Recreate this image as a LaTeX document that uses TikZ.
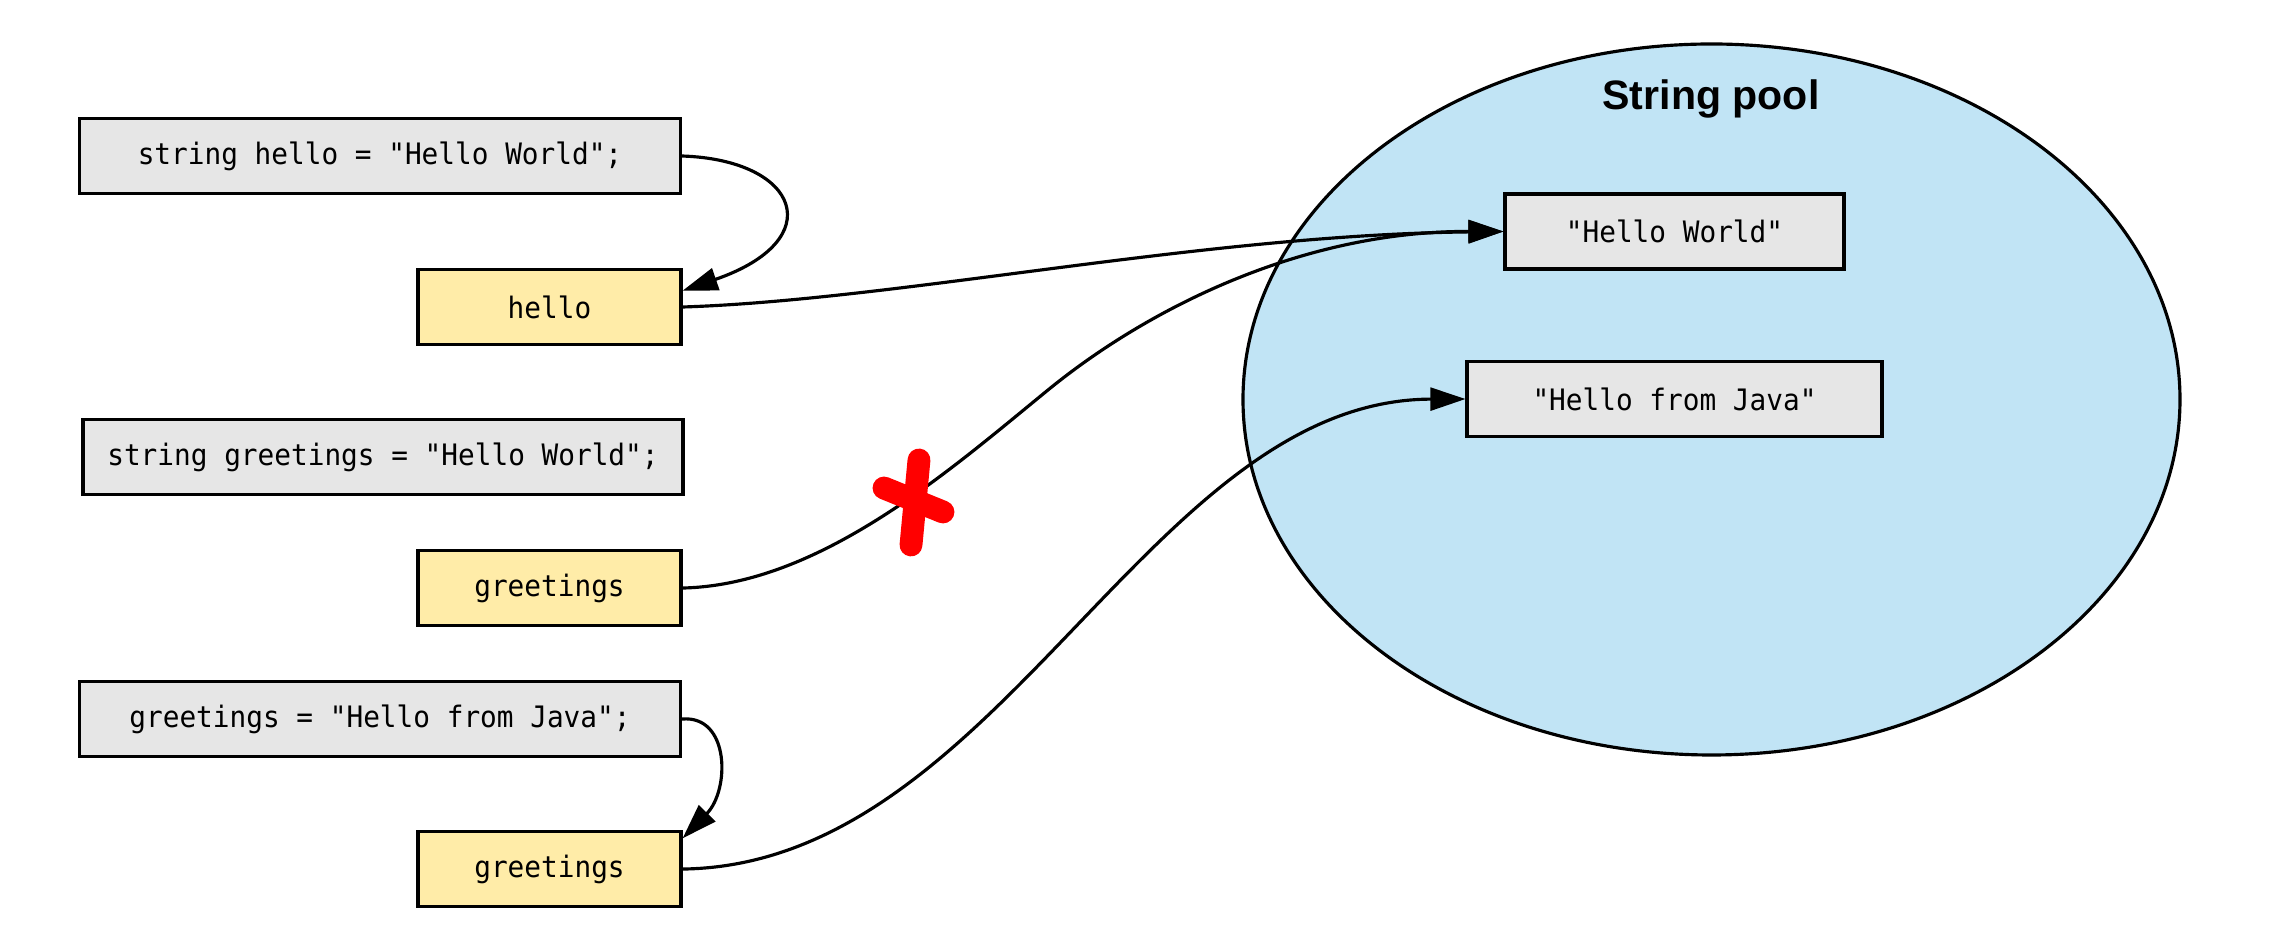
\documentclass[tikz,border=0pt]{standalone}
\usepackage{fontspec}
\usepackage{tikz}
\usetikzlibrary{arrows.meta}
\newfontfamily\codefont[FakeStretch=0.94]{DejaVu Sans Mono}
\newfontfamily\titlefont{Liberation Sans}
\definecolor{codegray}{HTML}{E6E6E6}
\definecolor{refyellow}{HTML}{FFECA8}
\definecolor{poolblue}{HTML}{C1E4F5}
\tikzset{
  font={\codefont\fontsize{8.4pt}{10}\selectfont},
  codebox/.style={draw=black, line width=0.9pt, fill=codegray,
    minimum height=0.75cm, inner sep=0pt},
  refbox/.style={codebox, fill=refyellow, minimum width=2.63cm},
  link/.style={black, line width=0.9pt, -{Triangle[length=10pt,width=6.5pt]}}}

\begin{document}
\begin{tikzpicture}[scale=0.1]
\useasboundingbox (0,0) rectangle (228.2,-92.6);
% string pool
\draw [black, line width=0.9pt, fill=poolblue] (171.15,-39.95) ellipse (46.85 and 35.55);
\node (title) at (171.1,-9.9) {\titlefont\bfseries\fontsize{11.7pt}{14}\selectfont String pool};
\node [codebox, minimum width=3.39cm] (hw) at (167.45,-23.15) {"Hello World"};
\node [codebox, minimum width=4.15cm] (hj) at (167.45,-39.9) {"Hello from Java"};
% statements and references
\node [codebox, minimum width=6.01cm] (stmt1) at (38,-15.6) {string hello = "Hello World";};
\node [refbox] (hello) at (54.95,-30.7) {hello};
\node [codebox, minimum width=6.0cm] (stmt2) at (38.3,-45.7) {string greetings = "Hello World";};
\node [refbox] (greet1) at (54.95,-58.8) {greetings};
\node [codebox, minimum width=6.01cm] (stmt3) at (38,-71.9) {greetings = "Hello from Java";};
\node [refbox] (greet2) at (54.95,-86.9) {greetings};
% connectors
\draw [link] (stmt1.east) .. controls (80,-16) and (83,-24) .. (hello.7);
\draw [link] (stmt3.east) .. controls (73,-71.5) and (73,-79) .. (greet2.13);
\draw [link] (hello.east) .. controls (90,-30) and (120,-23.5) .. (hw.west);
\draw [link] (greet1.east) .. controls (82,-58.5) and (95,-47) .. (104.8,-39)
  .. controls (114.6,-31) and (130,-23.1) .. (hw.west);
\draw [link] (greet2.east) .. controls (100,-86.5) and (114.8,-40) .. (hj.west);
% cross
\draw [red, line width=6.5pt, line cap=round] (91.9,-46) -- (91.1,-54.5);
\draw [red, line width=6.5pt, line cap=round] (88.4,-48.8) -- (94.3,-51.2);
\end{tikzpicture}
\end{document}
